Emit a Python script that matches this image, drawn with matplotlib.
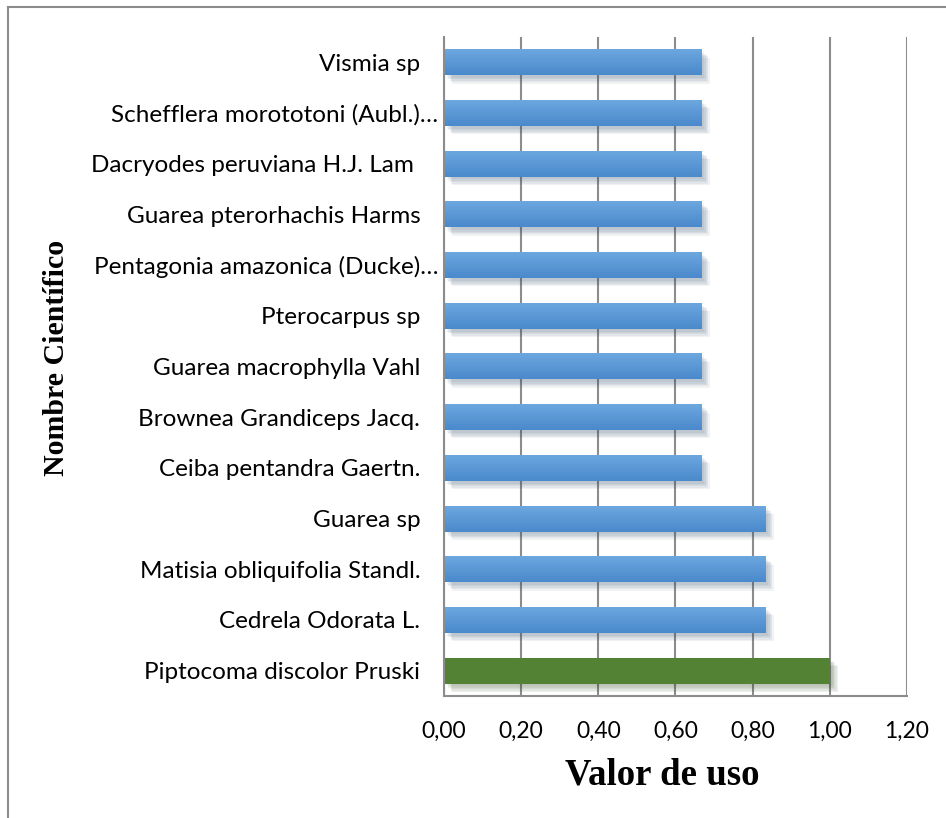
import matplotlib
matplotlib.use("Agg")
import numpy as np
import matplotlib.pyplot as plt
import matplotlib.patheffects as pe
from matplotlib.lines import Line2D
from matplotlib.colors import LinearSegmentedColormap
from matplotlib.transforms import ScaledTranslation

# species, bottom to top
species = [
    'Piptocoma discolor Pruski',
    'Cedrela Odorata L.',
    'Matisia obliquifolia Standl.',
    'Guarea sp',
    'Ceiba pentandra Gaertn.',
    'Brownea Grandiceps Jacq.',
    'Guarea macrophylla Vahl',
    'Pterocarpus sp',
    'Pentagonia amazonica (Ducke)…',
    'Guarea pterorhachis Harms',
    'Dacryodes peruviana H.J. Lam ',
    'Schefflera morototoni (Aubl.)…',
    'Vismia sp',
]
valor_uso = [1.00, 0.833, 0.833, 0.833, 0.667, 0.667, 0.667, 0.667,
             0.667, 0.667, 0.667, 0.667, 0.667]
xticks = [0.0, 0.2, 0.4, 0.6, 0.8, 1.0, 1.2]
xtick_labels = ['0,00', '0,20', '0,40', '0,60', '0,80', '1,00', '1,20']

colors = ['#548235'] + ['#5b9bd5'] * (len(species) - 1)
blue_grad = LinearSegmentedColormap.from_list('bg', ['#4a89cb', '#6ca7df'])

fig = plt.figure(figsize=(9.46, 8.18), dpi=100)
ax = fig.add_axes([0.4693, 0.1491, 0.4895, 0.8057])

bars = ax.barh(range(len(species)), valor_uso, height=0.51, color=colors, zorder=3)
shadow = [pe.SimplePatchShadow(offset=(d, -d), alpha=0.07, rho=0.5) for d in (6, 5, 4, 3, 2)]
for b, c in zip(bars, colors):
    b.set_path_effects(shadow + [pe.Normal()])
    if c == '#5b9bd5':
        x0, y0, w, h = b.get_x(), b.get_y(), b.get_width(), b.get_height()
        grad = np.linspace(0, 1, 50).reshape(-1, 1)
        ax.imshow(grad, extent=(x0, x0 + w, y0, y0 + h), cmap=blue_grad,
                  aspect='auto', origin='lower', zorder=4)

ax.set_xlim(0, 1.2)
ax.set_ylim(-0.5, len(species) - 0.5)
ax.set_xticks(xticks)
ax.set_xticklabels(xtick_labels, family=['Lato', 'DejaVu Sans'], fontsize=16.5)
ax.set_yticks(range(len(species)))
ax.set_yticklabels(species, family=['Lato', 'DejaVu Sans'], fontsize=17.5)
ax.tick_params(axis='y', length=0, pad=17)
ax.tick_params(axis='x', length=0, pad=18)
# truncated labels reach closer to the axis
for lab in ax.get_yticklabels():
    if lab.get_text().endswith('…'):
        lab.set_transform(lab.get_transform() + ScaledTranslation(0.18, 0, fig.dpi_scale_trans))

ax.grid(axis='x', color='#8c8c8c', linewidth=1.5, zorder=0)
for s in ['top', 'right']:
    ax.spines[s].set_visible(False)
for s in ['left', 'bottom']:
    ax.spines[s].set_color('#8c8c8c')
    ax.spines[s].set_linewidth(1.5)
    ax.spines[s].set_zorder(5)

fig.text(662 / 946, 1 - 775 / 818, 'Valor de uso', family='Liberation Serif',
         fontweight='bold', fontsize=26.5, ha='center', va='center')
fig.text(57 / 946, 1 - 358 / 818, 'Nombre Científico', family='Liberation Serif',
         fontweight='bold', fontsize=21.5, rotation=90, ha='center', va='center')

# outer chart frame (left and top only visible)
fig.add_artist(Line2D([8 / 946, 8 / 946], [0, 1 - 7 / 818], transform=fig.transFigure,
                      color='#8c8c8c', linewidth=1.5))
fig.add_artist(Line2D([8 / 946, 1], [1 - 7 / 818, 1 - 7 / 818], transform=fig.transFigure,
                      color='#8c8c8c', linewidth=1.5))

fig.savefig('out.png', dpi=100)
